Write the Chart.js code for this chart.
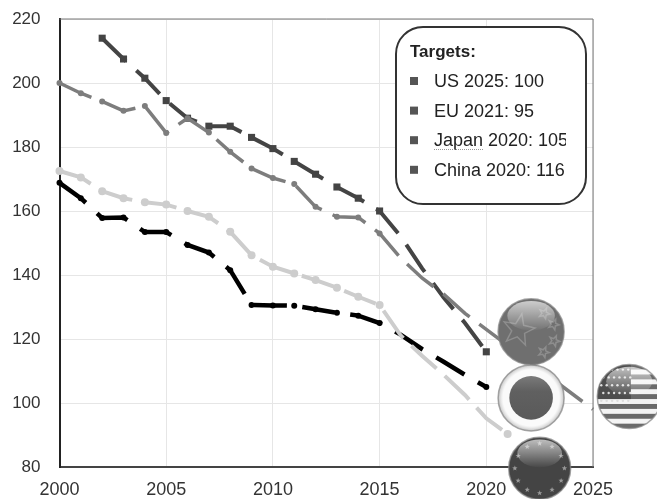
<!DOCTYPE html>
<html>
<head>
<meta charset="utf-8">
<script src="https://cdn.jsdelivr.net/npm/chart.js@4"></script>
<style>
body { margin: 0; background: #fff; }
canvas { display: block; filter: blur(0.5px); }
</style>
</head>
<body>
<canvas id="myChart" width="657" height="499"></canvas>
<script>
var years = [2000, 2001, 2002, 2003, 2004, 2005, 2006, 2007, 2008, 2009, 2010, 2011, 2012,
	2013, 2014, 2015, 2016, 2017, 2018, 2019, 2020, 2021, 2022, 2023, 2024, 2025];

var china = [null, null, 214, 207.5, 201.5, 194.5, 189, 186.5, 186.5, 183, 179.5, 175.5, 171.5,
	167.5, 164, 160, 152, 142, 133, 125, 116, null, null, null, null, null];
var us = [200, 196.8, 194.2, 191.3, 192.8, 184.4, 189, 184.5, 178.5, 173.3, 170.3, 168.4, 161.3,
	158.2, 158, 153, 145.2, 139, 134, 128, null, null, null, null, null, 98];
var eu = [172.5, 170.5, 166.2, 164, 162.7, 162, 160, 158.2, 153.5, 146.2, 142.6, 140.5, 138.4,
	136, 133.2, 130.6, 121, 114.7, 108.8, 102.5, 95.2, 90.3, null, null, null, null];
var japan = [168.8, 164, 157.8, 158, 153.4, 153.4, 149.4, 147, 141.5, 130.6, 130.5, 130.4, 129.3,
	128.2, 127.3, 125, 121.3, 116.8, 112.9, 108.8, 105, null, null, null, null, null];

var targetsTitle = "Targets:";
var targets = ["US 2025: 100", "EU 2021: 95", "Japan 2020: 105", "China 2020: 116"];

// flag badges sit where the series end, given in chart units
var flagNames = ["china", "japan", "eu", "us"];
var flagYears = [2022.1, 2022.1, 2022.5, 2026.7];
var flagValues = [122.3, 101.6, 79.6, 102];

function toPoints(values) {
	return years.map(function(y, i) {
		return { x: y, y: values[i] };
	});
}

// markers stop after 2015 except on the last point of a series
function markerSize(size, lastYear) {
	return function(ctx) {
		var y = years[ctx.dataIndex];
		return (y <= 2015 || y === lastYear) ? size : 0;
	};
}

function starPath(c, x, y, r, rot) {
	c.beginPath();
	for (var i = 0; i < 10; i++) {
		var a = rot + i * Math.PI / 5 - Math.PI / 2;
		var d = i % 2 ? r * 0.42 : r;
		c.lineTo(x + Math.cos(a) * d, y + Math.sin(a) * d);
	}
	c.closePath();
}

function gloss(c, x, y, r) {
	var g = c.createLinearGradient(0, y - r, 0, y);
	g.addColorStop(0, "rgba(255,255,255,0.7)");
	g.addColorStop(1, "rgba(255,255,255,0)");
	c.fillStyle = g;
	c.beginPath();
	c.ellipse(x, y - r * 0.48, r * 0.72, r * 0.45, 0, 0, Math.PI * 2);
	c.fill();
}

function drawFlag(c, name, x, y, r) {
	c.save();
	c.beginPath();
	c.arc(x, y, r, 0, Math.PI * 2);
	c.clip();
	if (name === "china") {
		c.fillStyle = "#6f6f6f";
		c.fillRect(x - r, y - r, r * 2, r * 2);
		c.strokeStyle = "#8d8d8d";
		c.lineWidth = 1.5;
		starPath(c, x - r * 0.38, y - r * 0.05, r * 0.5, 0.2);
		c.stroke();
		[[0.4, -0.55], [0.68, -0.22], [0.7, 0.28], [0.38, 0.62]].forEach(function(p) {
			starPath(c, x + p[0] * r, y + p[1] * r, r * 0.17, 0.4);
			c.stroke();
		});
		gloss(c, x, y, r);
	} else if (name === "japan") {
		c.fillStyle = "#fafafa";
		c.fillRect(x - r, y - r, r * 2, r * 2);
		var ring = c.createRadialGradient(x, y, r * 0.85, x, y, r);
		ring.addColorStop(0, "rgba(200,200,200,0)");
		ring.addColorStop(1, "rgba(170,170,170,0.7)");
		c.fillStyle = ring;
		c.fillRect(x - r, y - r, r * 2, r * 2);
		var sun = c.createLinearGradient(0, y - r * 0.66, 0, y + r * 0.66);
		sun.addColorStop(0, "#7a7a7a");
		sun.addColorStop(0.35, "#606060");
		sun.addColorStop(1, "#5a5a5a");
		c.fillStyle = sun;
		c.beginPath();
		c.arc(x, y, r * 0.66, 0, Math.PI * 2);
		c.fill();
	} else if (name === "eu") {
		c.fillStyle = "#444";
		c.fillRect(x - r, y - r, r * 2, r * 2);
		c.fillStyle = "#999";
		for (var i = 0; i < 12; i++) {
			var a = i * Math.PI / 6;
			starPath(c, x + Math.cos(a) * r * 0.8, y + Math.sin(a) * r * 0.8, r * 0.09, 0);
			c.fill();
		}
		gloss(c, x, y, r);
	} else {
		c.fillStyle = "#f4f4f4";
		c.fillRect(x - r, y - r, r * 2, r * 2);
		c.fillStyle = "#6a6a6a";
		var h = r * 2 / 13;
		for (var s = 0; s < 13; s += 2) {
			c.fillRect(x - r, y - r + s * h, r * 2, h);
		}
		c.fillStyle = "#4d4d4d";
		c.fillRect(x - r, y - r, r * 1.05, h * 7);
		c.fillStyle = "#ddd";
		for (var row = 0; row < 5; row++) {
			for (var col = 0; col < 6; col++) {
				c.beginPath();
				c.arc(x - r + 4 + col * 5.4 + (row % 2) * 2, y - r + 5 + row * 7.8, 1.2, 0, Math.PI * 2);
				c.fill();
			}
		}
		gloss(c, x, y, r);
	}
	c.restore();
	c.strokeStyle = "rgba(130,130,130,0.7)";
	c.lineWidth = 1.5;
	c.beginPath();
	c.arc(x, y, r, 0, Math.PI * 2);
	c.stroke();
}

function roundBox(c, x, y, w, h, r) {
	c.beginPath();
	c.roundRect(x, y, w, h, r);
	c.fillStyle = "#fff";
	c.fill();
	c.strokeStyle = "#333";
	c.lineWidth = 2;
	c.stroke();
}

var extras = {
	id: "extras",
	afterDatasetsDraw: function(chart) {
		var c = chart.ctx, a = chart.chartArea;
		var sx = chart.scales.x, sy = chart.scales.y;

		// thin frame on top and right
		c.save();
		c.strokeStyle = "#777";
		c.lineWidth = 1;
		c.beginPath();
		c.moveTo(a.left, a.top);
		c.lineTo(a.right, a.top);
		c.lineTo(a.right, a.bottom);
		c.stroke();
		c.restore();

		var radii = [33, 33, 31, 32];
		flagNames.forEach(function(name, i) {
			drawFlag(c, name, sx.getPixelForValue(flagYears[i]), sy.getPixelForValue(flagValues[i]), radii[i]);
		});

		// targets box
		c.save();
		roundBox(c, 396, 27, 190, 177, 27);
		c.fillStyle = "#222";
		c.textAlign = "left";
		c.textBaseline = "alphabetic";
		c.font = "bold 17px 'Liberation Sans', Arial, sans-serif";
		c.fillText(targetsTitle, 410, 57);
		c.font = "18px 'Liberation Sans', Arial, sans-serif";
		c.beginPath();
		c.rect(396, 27, 170, 177);
		c.clip();
		targets.forEach(function(t, i) {
			var base = 87 + i * 29.6;
			c.fillStyle = "#555";
			c.fillRect(410, base - 10, 8, 8);
			c.fillStyle = "#222";
			c.fillText(t, 434, base);
		});
		// spellcheck underline under Japan
		c.strokeStyle = "#999";
		c.lineWidth = 1;
		c.setLineDash([1, 1]);
		c.beginPath();
		c.moveTo(434, 149.5);
		c.lineTo(484, 149.5);
		c.stroke();
		c.restore();
	}
};

function lineSet(label, values, color, width, style, size, lastYear, dash) {
	return {
		label: label,
		data: toPoints(values),
		borderColor: color,
		backgroundColor: color,
		borderWidth: width,
		borderDash: dash,
		pointStyle: style,
		pointRadius: markerSize(size, lastYear),
		pointBorderWidth: 0,
		spanGaps: true,
		tension: 0,
		clip: false
	};
}

var ctx = document.getElementById("myChart");
var myChart = new Chart(ctx, {
	type: "line",
	data: {
		datasets: [
			lineSet("EU", eu, "#cdcdcd", 4, "circle", 4, 2021, [34, 11]),
			lineSet("US", us, "#7d7d7d", 3.5, "circle", 3, null, [35, 12]),
			lineSet("China", china, "#444444", 4, "rect", 5, 2020, [33, 14]),
			lineSet("Japan", japan, "#000000", 4.5, "circle", 3, 2020, [33, 15.5])
		]
	},
	options: {
		responsive: false,
		animation: false,
		layout: { padding: { top: 19, right: 64, left: 0, bottom: 0 } },
		plugins: { legend: { display: false }, tooltip: { enabled: false } },
		scales: {
			x: {
				type: "linear",
				min: 2000,
				max: 2025,
				afterFit: function(s) { s.height = 32; },
				ticks: {
					stepSize: 5,
					padding: 12,
					maxRotation: 0,
					color: "#333",
					font: { family: "'Liberation Sans', Arial, sans-serif", size: 18 },
					callback: function(v) { return String(v); }
				},
				grid: { color: "#e6e6e6", lineWidth: 1, drawTicks: false },
				border: { color: "#444", width: 2 }
			},
			y: {
				min: 80,
				max: 220,
				afterFit: function(s) { s.width = 59.5; s.paddingTop = 0; s.paddingBottom = 0; },
				ticks: {
					stepSize: 20,
					padding: 19,
					color: "#333",
					font: { family: "'Liberation Sans', Arial, sans-serif", size: 17 }
				},
				grid: { color: "#e6e6e6", lineWidth: 1, drawTicks: false },
				border: { color: "#222", width: 2 }
			}
		}
	},
	plugins: [extras]
});
</script>
</body>
</html>
